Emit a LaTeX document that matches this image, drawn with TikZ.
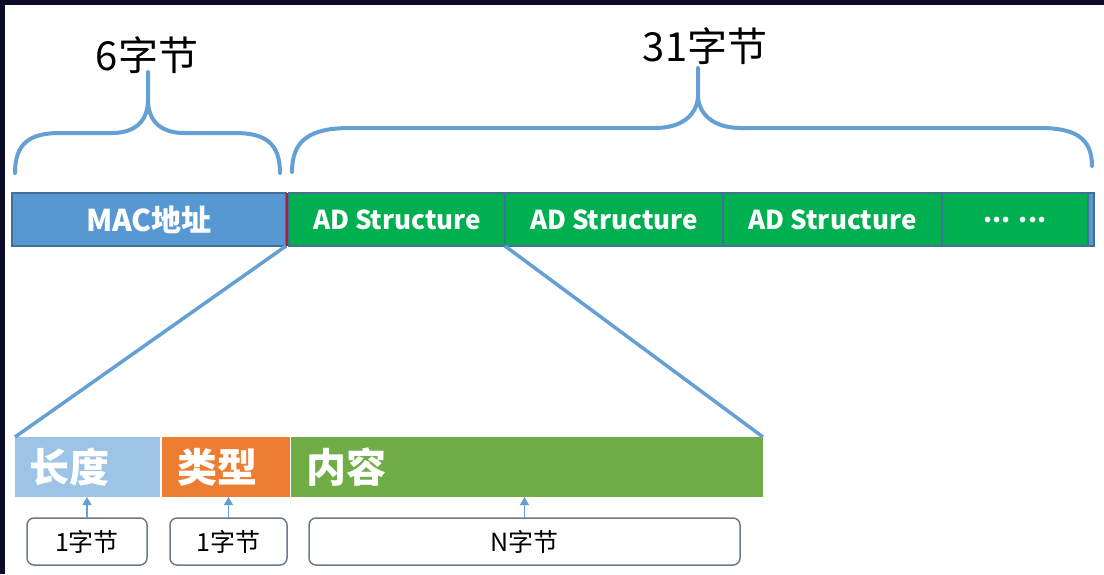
\documentclass[tikz,border=0pt]{standalone}
\usepackage{fontspec}
\setmainfont{Noto Sans CJK SC}
\usetikzlibrary{positioning,arrows.meta}

\definecolor{framenavy}{RGB}{12,12,42}
\definecolor{macblue}{RGB}{88,152,210}
\definecolor{adgreen}{RGB}{0,176,80}
\definecolor{barline}{RGB}{66,112,150}
\definecolor{sepred}{RGB}{180,30,50}
\definecolor{braceblue}{RGB}{100,160,212}
\definecolor{lenblue}{RGB}{157,195,230}
\definecolor{typeorange}{RGB}{237,125,49}
\definecolor{contentgreen}{RGB}{112,173,71}
\definecolor{tagline}{RGB}{105,122,140}

\tikzset{
	barbox/.style={draw=barline, line width=1.5pt, inner sep=0pt, outer sep=0pt,
		minimum height=53pt, anchor=north west, text=white,
		font=\fontsize{26}{30}\selectfont\bfseries},
	fieldbox/.style={inner xsep=15pt, inner ysep=0pt, outer sep=0pt,
		minimum height=60pt, anchor=north west, align=left, text=white,
		font=\fontsize{40}{44}\selectfont\bfseries},
	tagbox/.style={draw=tagline, line width=1.5pt, rounded corners=7pt, fill=white,
		inner sep=0pt, outer sep=0pt, minimum height=47pt, anchor=north west,
		font=\fontsize{25}{29}\selectfont},
	brace/.style={draw=braceblue, line width=4pt, line cap=round},
	link/.style={draw=braceblue, line width=3.5pt},
	pointer/.style={draw=braceblue, line width=1.5pt, ->},
}

\begin{document}
\begin{tikzpicture}[x=1pt, y=-1pt, >={Triangle[length=8pt,width=9pt]}]
		\useasboundingbox (0,0) rectangle (1104,574);
		\fill[framenavy] (0,0) rectangle (1104,574);
		\fill[white] (5,5) rectangle (1104,574);

		% top row: MAC address and AD structures
		\node[barbox, fill=macblue, minimum width=274pt, font=\fontsize{30}{34}\selectfont\bfseries] (mac) at (12,193) {MAC地址};
		\draw[sepred, line width=3pt] (287,193) -- (287,246);
		\node[barbox, fill=adgreen, minimum width=216pt] (ad1) at (289,193) {AD Structure};
		\node[barbox, fill=adgreen, minimum width=218pt, right=0pt of ad1] (ad2) {AD Structure};
		\node[barbox, fill=adgreen, minimum width=219pt, right=0pt of ad2] (ad3) {AD Structure};
		\node[barbox, fill=adgreen, minimum width=146pt, right=0pt of ad3] (more) {... ...};
		\node[barbox, fill=macblue, minimum width=6pt, right=0pt of more] (tail) {};

		% braces
		\draw[brace] (15,173) .. controls (15,143) and (30,133) .. (60,133) -- (112,133)
			.. controls (138,133) and (148,118) .. (148,100) -- (148,72);
		\draw[brace] (280,173) .. controls (280,143) and (265,133) .. (235,133) -- (184,133)
			.. controls (158,133) and (148,118) .. (148,100);
		\draw[brace] (292,172) .. controls (292,140) and (310,128) .. (350,128) -- (655,128)
			.. controls (685,128) and (698,112) .. (698,95) -- (698,68);
		\draw[brace] (1092,166) .. controls (1092,138) and (1075,128) .. (1040,128) -- (741,128)
			.. controls (711,128) and (698,112) .. (698,95);
		\node[font=\fontsize{40}{44}\selectfont] (six) at (147,55) {6字节};
		\node[font=\fontsize{40}{44}\selectfont] (thirtyone) at (705,46) {31字节};

		% bottom row: one AD structure
		\node[fieldbox, fill=lenblue, text width=115pt] (len) at (15,437) {长度};
		\node[fieldbox, fill=typeorange, text width=98pt] (type) at (162,437) {类型};
		\node[fieldbox, fill=contentgreen, text width=442pt] (content) at (291,437) {内容};

		\draw[link] (mac.south east) -- (len.north west);
		\draw[link] (ad1.south east) -- (content.north east);

		% sizes
		\node[tagbox, minimum width=120pt] (b1) at (27,518) {1字节};
		\node[tagbox, minimum width=117pt] (b2) at (170,518) {1字节};
		\node[tagbox, minimum width=431pt] (b3) at (309,518) {N字节};
		\draw[pointer] (b1.north) -- (b1.north |- len.south);
		\draw[pointer] (b2.north) -- (b2.north |- type.south);
		\draw[pointer] (b3.north) -- (b3.north |- content.south);
	\end{tikzpicture}
\end{document}
